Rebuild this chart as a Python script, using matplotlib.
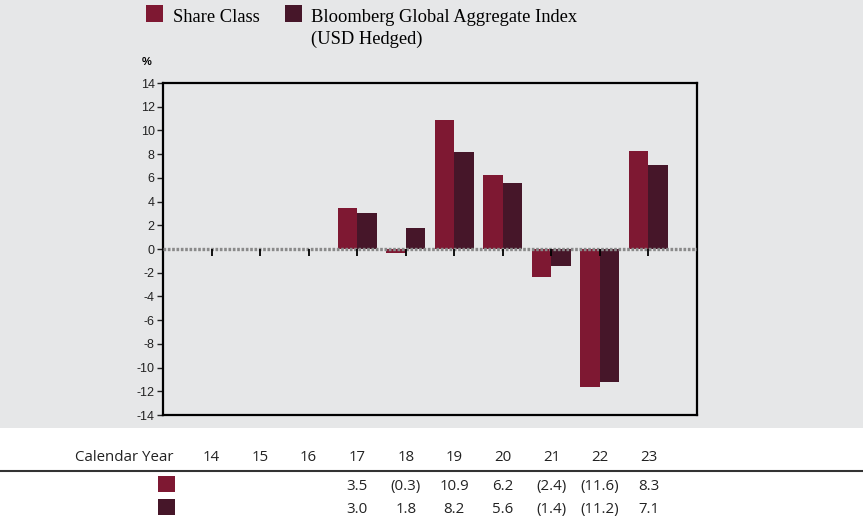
import matplotlib.pyplot as plt
import matplotlib.patches as mpatches
import matplotlib.transforms as mtransforms
import numpy as np

years = ['14', '15', '16', '17', '18', '19', '20', '21', '22', '23']
share_class = [None, None, None, 3.5, -0.3, 10.9, 6.2, -2.4, -11.6, 8.3]
index_vals = [None, None, None, 3.0, 1.8, 8.2, 5.6, -1.4, -11.2, 7.1]
yticks = list(range(-14, 15, 2))

c_share = '#7e1832'
c_index = '#461629'
bg = '#e6e7e8'


def fmt(v):
    if v is None:
        return ''
    return f'({abs(v):.1f})' if v < 0 else f'{v:.1f}'


fig = plt.figure(figsize=(8.63, 5.21), dpi=100)
fig.patch.set_facecolor('white')
fig.add_artist(mpatches.Rectangle((0, 1 - 428 / 521), 1, 428 / 521, transform=fig.transFigure,
                                  facecolor=bg, edgecolor='none', zorder=0))

ax = fig.add_axes([163 / 863, 1 - 415 / 521, 534 / 863, 332 / 521])
ax.set_facecolor(bg)

x = np.arange(len(years))
w = 0.4
s = np.array([np.nan if v is None else v for v in share_class])
b = np.array([np.nan if v is None else v for v in index_vals])
ax.bar(x - w / 2, s, w, color=c_share, zorder=2)
ax.bar(x + w / 2, b, w, color=c_index, zorder=2)

ax.axhline(0, color='#8a8a8a', lw=2.4, ls=(0, (0.8, 0.5)), zorder=3)
ax.vlines(x, -0.6, 0, color='black', lw=1.3, zorder=4)

ax.set_xlim(-1, len(years))
ax.set_ylim(-14, 14)
ax.set_xticks([])
ax.set_yticks(yticks)
ax.set_yticklabels([str(t) for t in yticks], fontsize=9, family='Liberation Sans')
ax.tick_params(axis='y', direction='out', length=4, width=1, pad=2, colors='#222222')
for sp in ax.spines.values():
    sp.set_linewidth(1.6)
    sp.set_color('black')

fig.text(147 / 863, 1 - 62 / 521, '%', fontsize=8, family='Liberation Sans', weight='bold',
         ha='center', va='center')

# legend
serif = 'Liberation Serif'
fig.add_artist(mpatches.Rectangle((146 / 863, 1 - 22 / 521), 17 / 863, 17 / 521,
                                  transform=fig.transFigure, facecolor=c_share, edgecolor='none'))
fig.text(173 / 863, 1 - 18 / 521, 'Share Class', fontsize=13.3, family=serif, va='center')
fig.add_artist(mpatches.Rectangle((285 / 863, 1 - 22 / 521), 17 / 863, 17 / 521,
                                  transform=fig.transFigure, facecolor=c_index, edgecolor='none'))
fig.text(311 / 863, 1 - 18 / 521, 'Bloomberg Global Aggregate Index', fontsize=13.3, family=serif,
         va='center')
fig.text(311 / 863, 1 - 39 / 521, '(USD Hedged)', fontsize=13.3, family=serif, va='center')

# table below the chart
tf = mtransforms.blended_transform_factory(ax.transData, fig.transFigure)
sans = 'Open Sans'
fs = 10.8
fig.text(173 / 863, 1 - 461 / 521, 'Calendar Year', fontsize=fs, family=sans, ha='right',
         va='baseline', color='#222222')
for i, yr in enumerate(years):
    fig.text(x[i], 1 - 461 / 521, yr, transform=tf, fontsize=fs, family=sans, ha='center',
             va='baseline', color='#222222')
    fig.text(x[i], 1 - 490 / 521, fmt(share_class[i]), transform=tf, fontsize=fs, family=sans,
             ha='center', va='baseline', color='#222222')
    fig.text(x[i], 1 - 513 / 521, fmt(index_vals[i]), transform=tf, fontsize=fs, family=sans,
             ha='center', va='baseline', color='#222222')
fig.add_artist(plt.Line2D([0, 1], [1 - 471 / 521, 1 - 471 / 521], transform=fig.transFigure,
                          color='#333333', lw=1.5))
fig.add_artist(mpatches.Rectangle((158 / 863, 1 - 492 / 521), 17 / 863, 16 / 521,
                                  transform=fig.transFigure, facecolor=c_share, edgecolor='none'))
fig.add_artist(mpatches.Rectangle((158 / 863, 1 - 515 / 521), 17 / 863, 16 / 521,
                                  transform=fig.transFigure, facecolor=c_index, edgecolor='none'))

fig.savefig('out.png', dpi=100, facecolor=fig.get_facecolor())
